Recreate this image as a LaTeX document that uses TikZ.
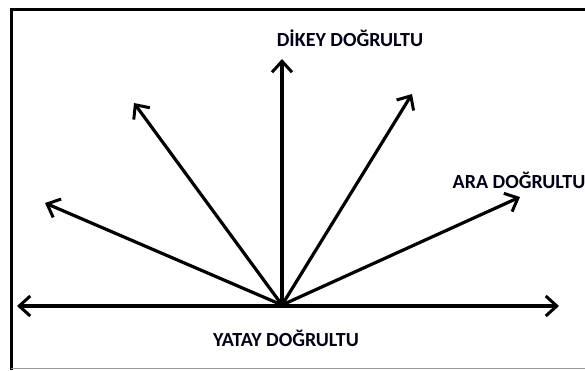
\documentclass[tikz,border=0pt]{standalone}
\usepackage{fontspec}
\setmainfont{Carlito}
\usetikzlibrary{arrows.meta}
\begin{document}
\begin{tikzpicture}[x=1pt,y=-1pt,
  vec/.style={line width=3.2pt,-{Straight Barb[length=11pt,width=20pt,line width=3pt]}},
  lbl/.style={font=\fontsize{20}{20}\selectfont\bfseries,text=black!90!blue,inner sep=0pt}]
\useasboundingbox (0,0) rectangle (585,370);
\draw[line width=3pt] (11,370) -- (11,9.5) -- (585,9.5);
\draw[line width=1pt,black!40] (11,368.5) -- (585,368.5);
\coordinate (O) at (282,305);
\coordinate (C) at (282,306);
\coordinate (L) at (17,306);
\coordinate (R) at (559,306);
\coordinate (U) at (282,59);
\coordinate (UL) at (134,103);
\coordinate (UR) at (412,94);
\coordinate (LL) at (45,203);
\coordinate (RR) at (520,197);
\draw[vec] (C) -- (L);
\draw[vec] (C) -- (R);
\draw[vec] (O) -- (U);
\draw[vec] (O) -- (UL);
\draw[vec] (O) -- (UR);
\draw[vec] (O) -- (LL);
\draw[vec] (O) -- (RR);
\node[lbl] (dikey) at (350,38) {DİKEY DOĞRULTU};
\node[lbl] (ara) at (519,180) {ARA DOĞRULTU};
\node[lbl] (yatay) at (286,338) {YATAY DOĞRULTU};
\end{tikzpicture}
\end{document}
